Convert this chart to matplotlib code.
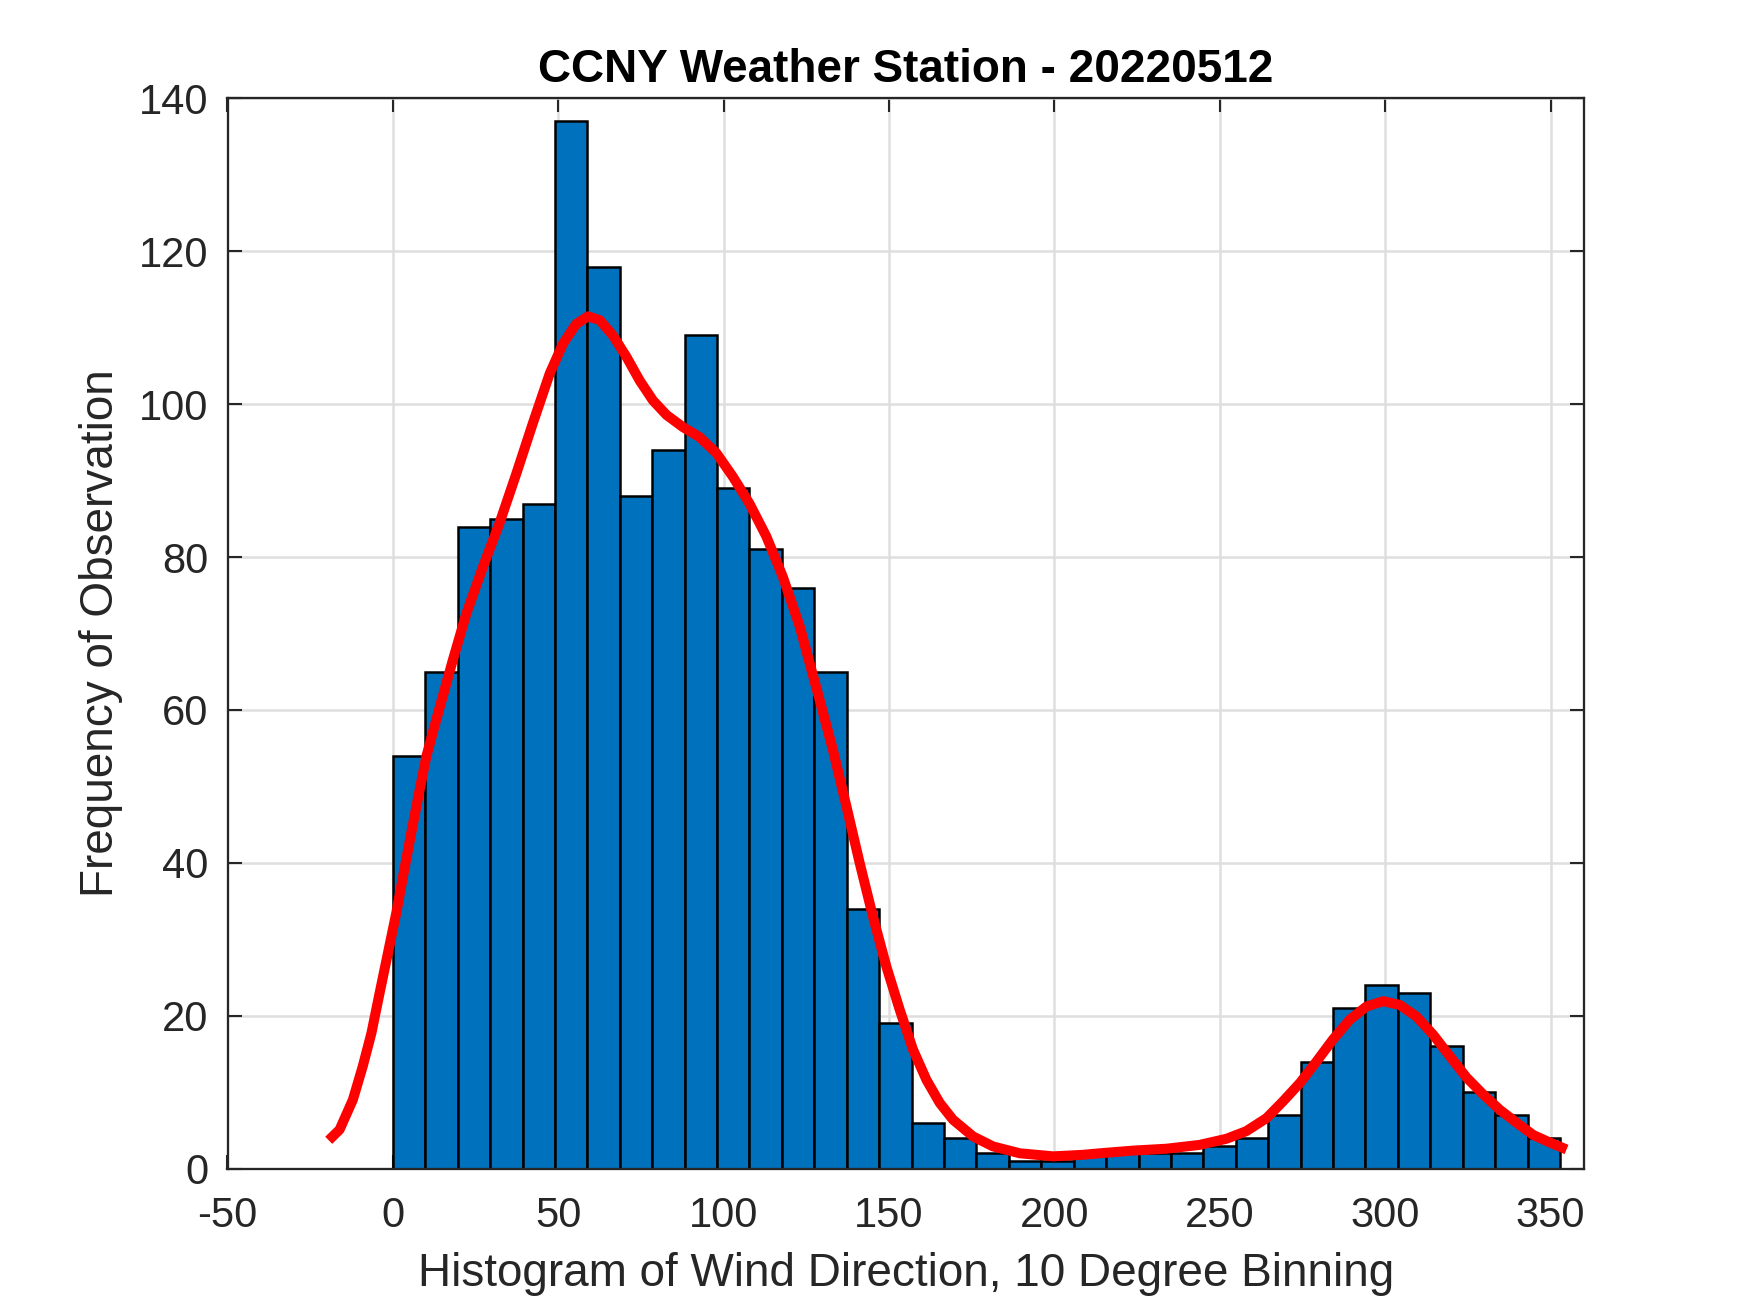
import numpy as np
import matplotlib
matplotlib.use("Agg")
import matplotlib.pyplot as plt

# Histogram counts, 36 bins starting at 0 deg
counts = [54, 65, 84, 85, 87, 137, 118, 88, 94, 109, 89, 81, 76, 65, 34, 19, 6, 4,
          2, 1, 1, 2, 2, 2, 2, 3, 4, 7, 14, 21, 24, 23, 16, 10, 7, 4]
bin_start = 0.0
bin_width = 9.8

# Smoothed density curve (scaled to counts)
curve_x = [-19.4, -16.1, -12.1, -9.1, -6.5, -4.0, -1.5, 1.0, 4.0, 7.1, 10.1, 13.1,
           18.1, 22.2, 27.2, 32.2, 37.3, 42.3, 47.4, 51.4, 55.4, 59.0, 62.5, 66.5,
           70.6, 74.6, 78.6, 82.7, 87.7, 92.7, 97.8, 102.8, 107.8, 112.9, 117.9,
           123.0, 129.0, 133.0, 137.1, 141.1, 145.1, 149.2, 153.2, 157.2, 161.3,
           165.3, 169.3, 175.4, 181.4, 189.5, 199.6, 208.6, 213.7, 223.8, 233.9,
           243.9, 252.0, 258.0, 264.1, 269.1, 274.2, 279.2, 284.2, 289.3, 294.3,
           299.4, 304.4, 309.4, 314.5, 319.5, 324.6, 329.6, 334.6, 339.7, 344.7,
           349.8, 354.8]
curve_y = [3.7, 5.1, 9.0, 13.4, 17.7, 23.0, 28.2, 33.4, 40.4, 47.4, 53.9, 58.7,
           66.5, 72.6, 78.7, 84.4, 90.9, 97.5, 104.0, 107.9, 110.5, 111.5, 111.0, 109.0,
           106.2, 103.1, 100.5, 98.6, 97.0, 95.7, 93.6, 90.5, 87.0, 82.7, 77.4,
           70.9, 61.3, 54.8, 47.4, 40.0, 33.0, 26.4, 20.8, 15.6, 11.6,
           8.6, 6.4, 4.2, 2.9, 2.0, 1.6, 1.8, 2.0, 2.35, 2.6,
           3.1, 3.9, 4.9, 6.6, 8.8, 11.2, 14.0, 16.9, 19.5, 21.2,
           21.9, 21.4, 19.9, 17.5, 14.7, 11.9, 9.7, 7.7, 6.0, 4.4,
           3.4, 2.5]

x_ticks = [-50, 0, 50, 100, 150, 200, 250, 300, 350]
y_ticks = [0, 20, 40, 60, 80, 100, 120, 140]

plt.rcParams['font.family'] = ['Liberation Sans', 'DejaVu Sans']
plt.rcParams['axes.unicode_minus'] = False
axis_col = '#262626'

fig = plt.figure(figsize=(1750 / 300, 1313 / 300), dpi=300)
ax = fig.add_axes([0.13, 0.11, 0.775, 0.815])

edges = bin_start + bin_width * np.arange(len(counts) + 1)
ax.bar(edges[:-1], counts, width=bin_width, align='edge', color='#0072BD',
       edgecolor='black', linewidth=0.6, zorder=2)
ax.plot(curve_x, curve_y, color='red', linewidth=2.4, zorder=3,
        solid_capstyle='butt', solid_joinstyle='round')

ax.set_xlim(-50, 360)
ax.set_ylim(0, 140)
ax.set_xticks(x_ticks)
ax.set_yticks(y_ticks)
ax.set_axisbelow(True)
ax.grid(True, color='#dedede', linewidth=0.6)

ax.tick_params(direction='in', top=True, right=True, length=3.3, width=0.5,
               colors=axis_col, labelsize=10)
ax.tick_params(axis='x', pad=6.5)
ax.tick_params(axis='y', pad=4.5)
for s in ax.spines.values():
    s.set_color(axis_col)
    s.set_linewidth(0.55)

ax.set_title('CCNY Weather Station - 20220512', fontsize=11, fontweight='bold',
             pad=4, color='black')
ax.set_xlabel('Histogram of Wind Direction, 10 Degree Binning', fontsize=11,
              color=axis_col, labelpad=4)
ax.set_ylabel('Frequency of Observation', fontsize=11, color=axis_col, labelpad=4)

fig.savefig('out.png', dpi=300)
